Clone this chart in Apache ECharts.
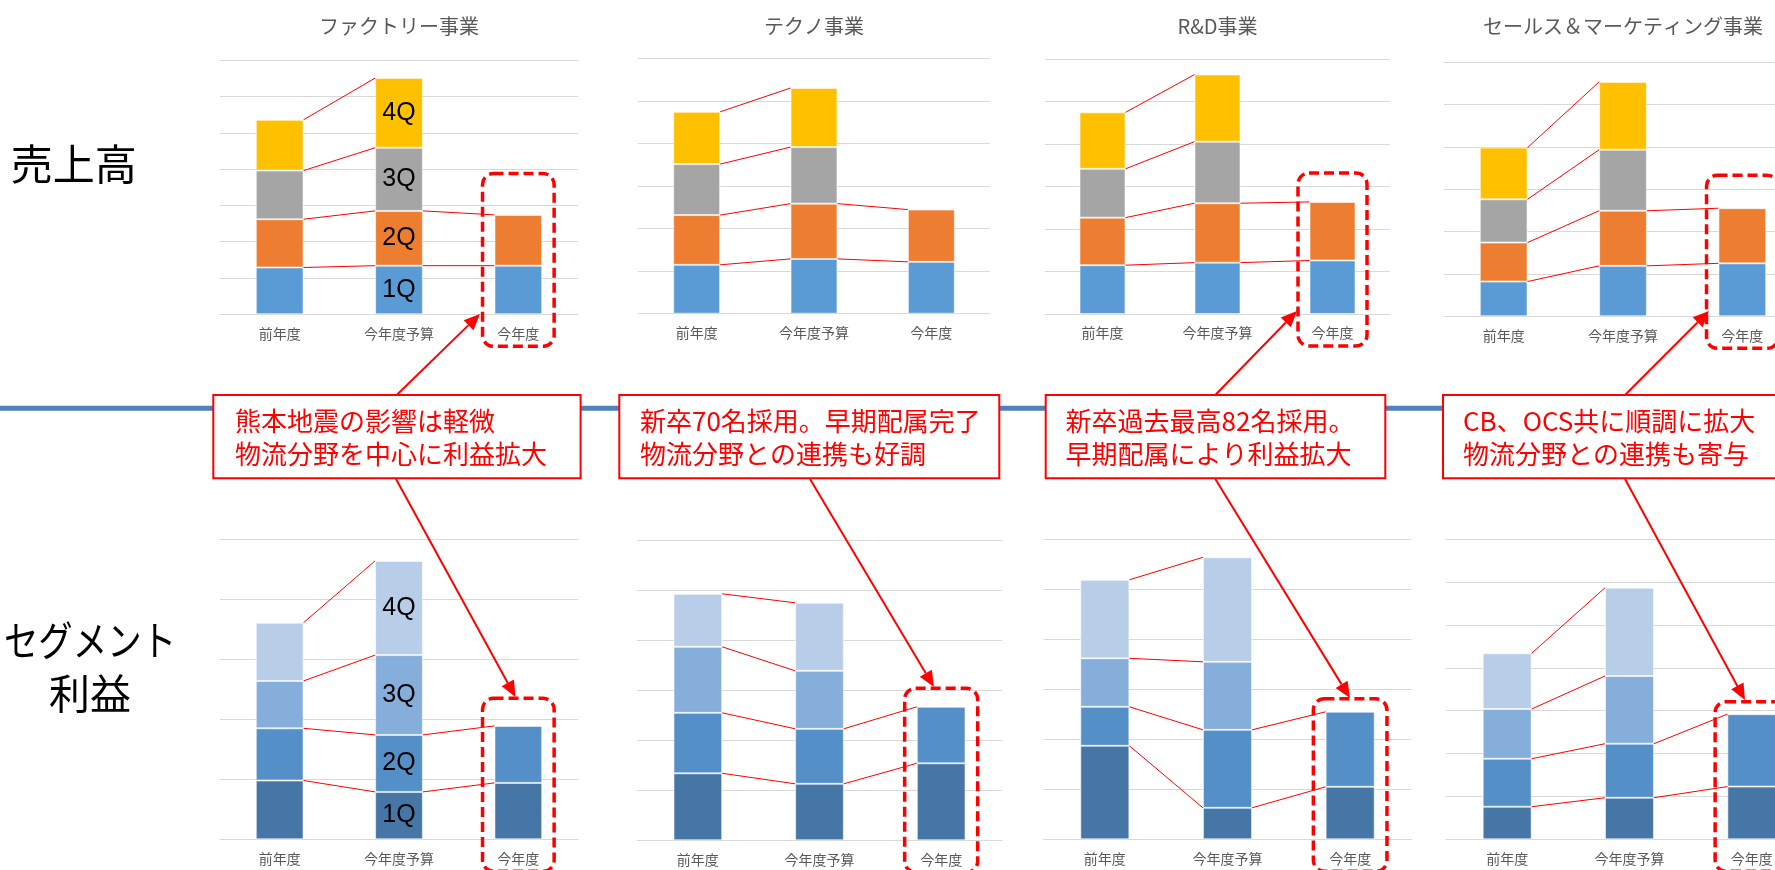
<!DOCTYPE html>
<html>
<head>
<meta charset="utf-8">
<script src="https://cdn.jsdelivr.net/npm/echarts@6/dist/echarts.min.js"></script>
<style>
  html, body { margin: 0; padding: 0; background: #ffffff; }
  #main { width: 1775px; height: 870px; }
</style>
</head>
<body>
<div id="main"></div>
<script>
// ---- data ----
const categories = ['前年度', '今年度予算', '今年度'];
const quarters = ['1Q', '2Q', '3Q', '4Q'];
const segmentNames = ['ファクトリー事業', 'テクノ事業', 'R&D事業', 'セールス＆マーケティング事業'];

// 売上高 — rows: 1Q..4Q, columns: 前年度 / 今年度予算 / 今年度
const salesFactory = [[1.29, 1.34, 1.34], [1.33, 1.51, 1.40], [1.34, 1.74, null], [1.40, 1.92, null]];
const salesTechno  = [[1.15, 1.29, 1.22], [1.17, 1.30, 1.23], [1.20, 1.33, null], [1.23, 1.39, null]];
const salesRD      = [[1.15, 1.21, 1.26], [1.12, 1.40, 1.38], [1.15, 1.45, null], [1.33, 1.58, null]];
const salesSM      = [[0.82, 1.19, 1.25], [0.92, 1.30, 1.30], [1.02, 1.44, null], [1.22, 1.60, null]];

// セグメント利益 — rows: 1Q..4Q, columns: 前年度 / 今年度予算 / 今年度
const profitFactory = [[0.98, 0.79, 0.94], [0.87, 0.95, 0.95], [0.79, 1.33, null], [0.97, 1.57, null]];
const profitTechno  = [[1.34, 1.13, 1.54], [1.21, 1.10, 1.13], [1.32, 1.16, null], [1.06, 1.36, null]];
const profitRD      = [[1.87, 0.63, 1.05], [0.78, 1.56, 1.50], [0.97, 1.36, null], [1.57, 2.09, null]];
const profitSM      = [[0.76, 0.97, 1.23], [1.12, 1.26, 1.69], [1.16, 1.58, null], [1.30, 2.06, null]];

const salesAxisMax  = [7, 6, 6, 6];
const profitAxisMax = [5, 6, 6, 7];

// top edge (axis units) of the dashed frame around 今年度; null = no frame
const salesHighlightTop  = [3.88, null, 3.32, 3.33];
const profitHighlightTop = [2.35, 3.04, 2.81, 3.21];

const comments = [
  ['熊本地震の影響は軽微', '物流分野を中心に利益拡大'],
  ['新卒70名採用。早期配属完了', '物流分野との連携も好調'],
  ['新卒過去最高82名採用。', '早期配属により利益拡大'],
  ['CB、OCS共に順調に拡大', '物流分野との連携も寄与']
];

// ---- layout & style ----
const salesGrids = [
  { left: 220,  top: 60.3, width: 358, height: 254 },
  { left: 638,  top: 58.7, width: 352, height: 255 },
  { left: 1045, top: 59.3, width: 345, height: 254.7 },
  { left: 1444, top: 62,   width: 358, height: 254.3 }
];
const profitGrids = [
  { left: 220,    top: 539.3, width: 358, height: 300 },
  { left: 637,    top: 540.3, width: 365, height: 300 },
  { left: 1043.5, top: 539.3, width: 368, height: 300 },
  { left: 1446,   top: 539.3, width: 367, height: 300 }
];
const salesColors  = ['#5B9BD5', '#ED7D31', '#A5A5A5', '#FFC000'];
const profitColors = ['#4676A6', '#548FC7', '#86AEDB', '#B8CDE8'];

const commentBoxes = [
  { x: 213.3,  y: 395, w: 367.3, h: 83.3, tx: 235 },
  { x: 619.3,  y: 395, w: 380,   h: 83.3, tx: 640 },
  { x: 1045.7, y: 395, w: 339.6, h: 83.3, tx: 1065.6 },
  { x: 1443,   y: 395, w: 400,   h: 83.3, tx: 1463 }
];
// callout arrows: [fromX, fromY, toX, toY]
const callouts = [
  [396.7, 395, 480, 314], [396, 479, 515.5, 697],
  [810, 479, 934, 687],
  [1215.3, 395, 1297, 311], [1215.3, 479, 1350, 698],
  [1625, 395, 1709, 311], [1625, 479, 1745, 700]
];

const CJK = '"Noto Sans CJK JP", "Noto Sans", sans-serif';
const RED = '#FF0000';

const grids = [], xAxes = [], yAxes = [], series = [];

function cumulative(rows) {
  // cum[c][q] = top of quarter q in column c
  return categories.map((_, c) => {
    let s = 0;
    return rows.map(r => (r[c] == null ? null : (s += r[c])));
  });
}

function addChart(rows, colors, grid, max, highlightTop, withLabels, tag) {
  const gi = grids.length;
  grids.push(Object.assign({ containLabel: false, outerBoundsMode: 'none' }, grid));
  xAxes.push({
    type: 'category', gridIndex: gi, data: categories,
    axisTick: { show: false },
    axisLine: { lineStyle: { color: '#D9D9D9', width: 1 } },
    axisLabel: { color: '#595959', fontSize: 14, fontFamily: CJK, margin: 12 }
  });
  yAxes.push({
    type: 'value', gridIndex: gi, min: 0, max: max, interval: 1,
    axisLabel: { show: false }, axisLine: { show: false }, axisTick: { show: false },
    splitLine: { lineStyle: { color: '#D9D9D9', width: 1 } }
  });
  rows.forEach((vals, q) => {
    series.push({
      type: 'bar', name: quarters[q], xAxisIndex: gi, yAxisIndex: gi,
      stack: tag, barWidth: '40%', data: vals,
      itemStyle: { color: colors[q], borderColor: 'rgba(255,255,255,0.55)', borderWidth: 1 },
      label: {
        show: withLabels, position: 'inside', color: '#000000', fontSize: 25,
        fontFamily: '"Liberation Sans", Arial, sans-serif',
        formatter: p => (p.dataIndex === 1 ? quarters[q] : '')
      },
      emphasis: { disabled: true }, animation: false
    });
  });
  // red connector lines between quarter tops of adjacent columns
  const cum = cumulative(rows);
  const links = [];
  for (let c = 0; c < categories.length - 1; c++) {
    for (let q = 0; q < quarters.length; q++) {
      if (cum[c][q] != null && cum[c + 1][q] != null) links.push([c, cum[c][q], cum[c + 1][q]]);
    }
  }
  series.push({
    type: 'custom', xAxisIndex: gi, yAxisIndex: gi, data: links, z: 3,
    encode: { x: 0, y: [1, 2] }, silent: true, animation: false,
    renderItem: (params, api) => {
      const half = api.size([1, 0])[0] * 0.2;
      const c = api.value(0);
      const p0 = api.coord([c, api.value(1)]);
      const p1 = api.coord([c + 1, api.value(2)]);
      return {
        type: 'line',
        shape: { x1: p0[0] + half, y1: p0[1], x2: p1[0] - half, y2: p1[1] },
        style: { stroke: RED, lineWidth: 1 }
      };
    }
  });
  // dashed frame around 今年度
  if (highlightTop != null) {
    series.push({
      type: 'custom', xAxisIndex: gi, yAxisIndex: gi, data: [[2, highlightTop]], z: 4,
      encode: { x: 0, y: 1 }, clip: false, silent: true, animation: false,
      renderItem: (params, api) => {
        const top = api.coord([api.value(0), api.value(1)]);
        const base = api.coord([api.value(0), 0]);
        const w = api.size([1, 0])[0] * 0.6;
        return {
          type: 'rect',
          shape: { x: top[0] - w / 2, y: top[1], width: w, height: base[1] + 32 - top[1], r: 11 },
          style: { fill: 'transparent', stroke: RED, lineWidth: 3.5, lineDash: [10, 5] }
        };
      }
    });
  }
}

const salesData  = [salesFactory, salesTechno, salesRD, salesSM];
const profitData = [profitFactory, profitTechno, profitRD, profitSM];
for (let s = 0; s < 4; s++) {
  addChart(salesData[s], salesColors, salesGrids[s], salesAxisMax[s], salesHighlightTop[s], s === 0, 'sales' + s);
}
for (let s = 0; s < 4; s++) {
  addChart(profitData[s], profitColors, profitGrids[s], profitAxisMax[s], profitHighlightTop[s], s === 0, 'profit' + s);
}

// ---- annotations ----
function textEl(text, x, y, font, fill, align, extra) {
  return Object.assign({
    type: 'text', x: x, y: y,
    style: {
      text: text, x: 0, y: 0, font: font, fill: fill,
      textAlign: align, textVerticalAlign: 'middle', align: align, verticalAlign: 'middle'
    }
  }, extra || {});
}

function arrowEls(x1, y1, x2, y2) {
  const ang = Math.atan2(y2 - y1, x2 - x1), L = 16, W = 7;
  const bx = x2 - L * Math.cos(ang), by = y2 - L * Math.sin(ang);
  const nx = Math.sin(ang), ny = -Math.cos(ang);
  return [
    { type: 'line', z: 20, shape: { x1: x1, y1: y1, x2: bx, y2: by }, style: { stroke: RED, lineWidth: 2 } },
    { type: 'polygon', z: 20, shape: { points: [[x2, y2], [bx + W * nx, by + W * ny], [bx - W * nx, by - W * ny]] },
      style: { fill: RED } }
  ];
}

const graphics = [];
// section divider
graphics.push({ type: 'line', z: 5, shape: { x1: 0, y1: 408.3, x2: 1775, y2: 408.3 },
  style: { stroke: '#4F81BD', lineWidth: 5 } });
// row headings
graphics.push(textEl('売上高', 73.7, 164, '42px ' + CJK, '#000000', 'center'));
graphics.push(textEl('セグメント', 90, 640.5, '41px ' + CJK, '#000000', 'center', { scaleX: 0.84 }));
graphics.push(textEl('利益', 90, 693.5, '41px ' + CJK, '#000000', 'center'));
// segment titles
salesGrids.forEach((g, i) => {
  graphics.push(textEl(segmentNames[i], g.left + g.width / 2, 26.5, '20px ' + CJK, '#595959', 'center'));
});
// comment boxes
commentBoxes.forEach((b, i) => {
  graphics.push({ type: 'rect', z: 10, shape: { x: b.x, y: b.y, width: b.w, height: b.h },
    style: { fill: '#ffffff', stroke: RED, lineWidth: 2 } });
  graphics.push(textEl(comments[i][0], b.tx, 421, '26px ' + CJK, RED, 'left', { z: 11 }));
  graphics.push(textEl(comments[i][1], b.tx, 454, '26px ' + CJK, RED, 'left', { z: 11 }));
});
callouts.forEach(a => arrowEls(a[0], a[1], a[2], a[3]).forEach(e => graphics.push(e)));

const chart = echarts.init(document.getElementById('main'), null, { renderer: 'canvas' });
chart.setOption({
  animation: false,
  backgroundColor: '#ffffff',
  grid: grids,
  xAxis: xAxes,
  yAxis: yAxes,
  series: series,
  graphic: { elements: graphics }
});
</script>
</body>
</html>
